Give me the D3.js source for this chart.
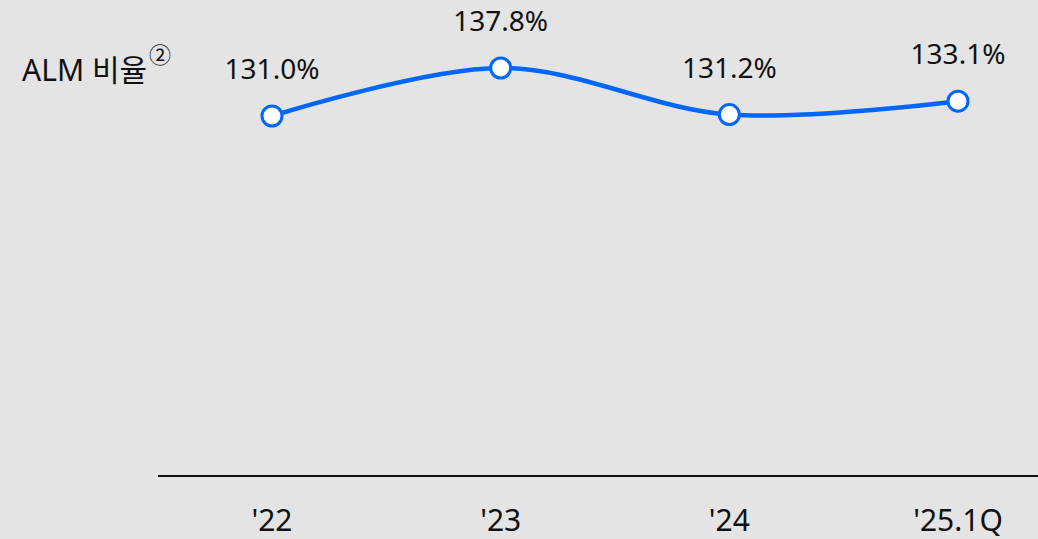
<!DOCTYPE html>
<html>
<head>
<meta charset="utf-8">
<script src="https://cdn.jsdelivr.net/npm/d3@7"></script>
<style>
  body { margin: 0; background: #e4e4e4; }
  svg { display: block; font-family: "Noto Sans", "Noto Sans CJK KR", sans-serif; }
</style>
</head>
<body>
<script>
var periods = ["'22", "'23", "'24", "'25.1Q"]
var almRatio = [131.0, 137.8, 131.2, 133.1]
var seriesName = "ALM 비율"

var width = 1038, height = 539

var svg = d3.select("body").append("svg")
  .attr("width", width)
  .attr("height", height)

svg.append("rect")
  .attr("width", width)
  .attr("height", height)
  .attr("fill", "#e4e4e4")

var x = d3.scalePoint()
  .domain(periods)
  .range([272, 958])

var y = d3.scaleLinear()
  .domain([80, 137.8])
  .range([476, 68])

// baseline
svg.append("line")
  .attr("x1", 158)
  .attr("x2", width)
  .attr("y1", y(80))
  .attr("y2", y(80))
  .attr("stroke", "#111")
  .attr("stroke-width", 2)

// x labels
svg.append("g")
  .selectAll("text")
  .data(periods)
  .join("text")
  .attr("x", d => x(d))
  .attr("y", 531)
  .attr("text-anchor", "middle")
  .attr("font-size", 30)
  .attr("fill", "#111")
  .text(d => d)

// series title
var title = svg.append("text")
  .attr("x", 22)
  .attr("y", 81)
  .attr("font-size", 30)
  .attr("fill", "#111")
title.append("tspan").text(seriesName)
title.append("tspan")
  .attr("dy", -18)
  .attr("dx", 2)
  .attr("font-size", 22)
  .text("②")

var data = periods.map((p, i) => ({ p: p, v: almRatio[i] }))

var line = d3.line()
  .x(d => x(d.p))
  .y(d => y(d.v))
  .curve(d3.curveCatmullRom.alpha(0.5))

svg.append("path")
  .datum(data)
  .attr("d", line)
  .attr("fill", "none")
  .attr("stroke", "#0066ff")
  .attr("stroke-width", 4.5)

svg.append("g")
  .selectAll("circle")
  .data(data)
  .join("circle")
  .attr("cx", d => x(d.p))
  .attr("cy", d => y(d.v))
  .attr("r", 10)
  .attr("fill", "#fff")
  .attr("stroke", "#0066ff")
  .attr("stroke-width", 3)

svg.append("g")
  .selectAll("text")
  .data(data)
  .join("text")
  .attr("x", d => x(d.p))
  .attr("y", d => y(d.v) - 37)
  .attr("text-anchor", "middle")
  .attr("font-size", 28)
  .attr("fill", "#111")
  .text(d => d.v.toFixed(1) + "%")
</script>
</body>
</html>
